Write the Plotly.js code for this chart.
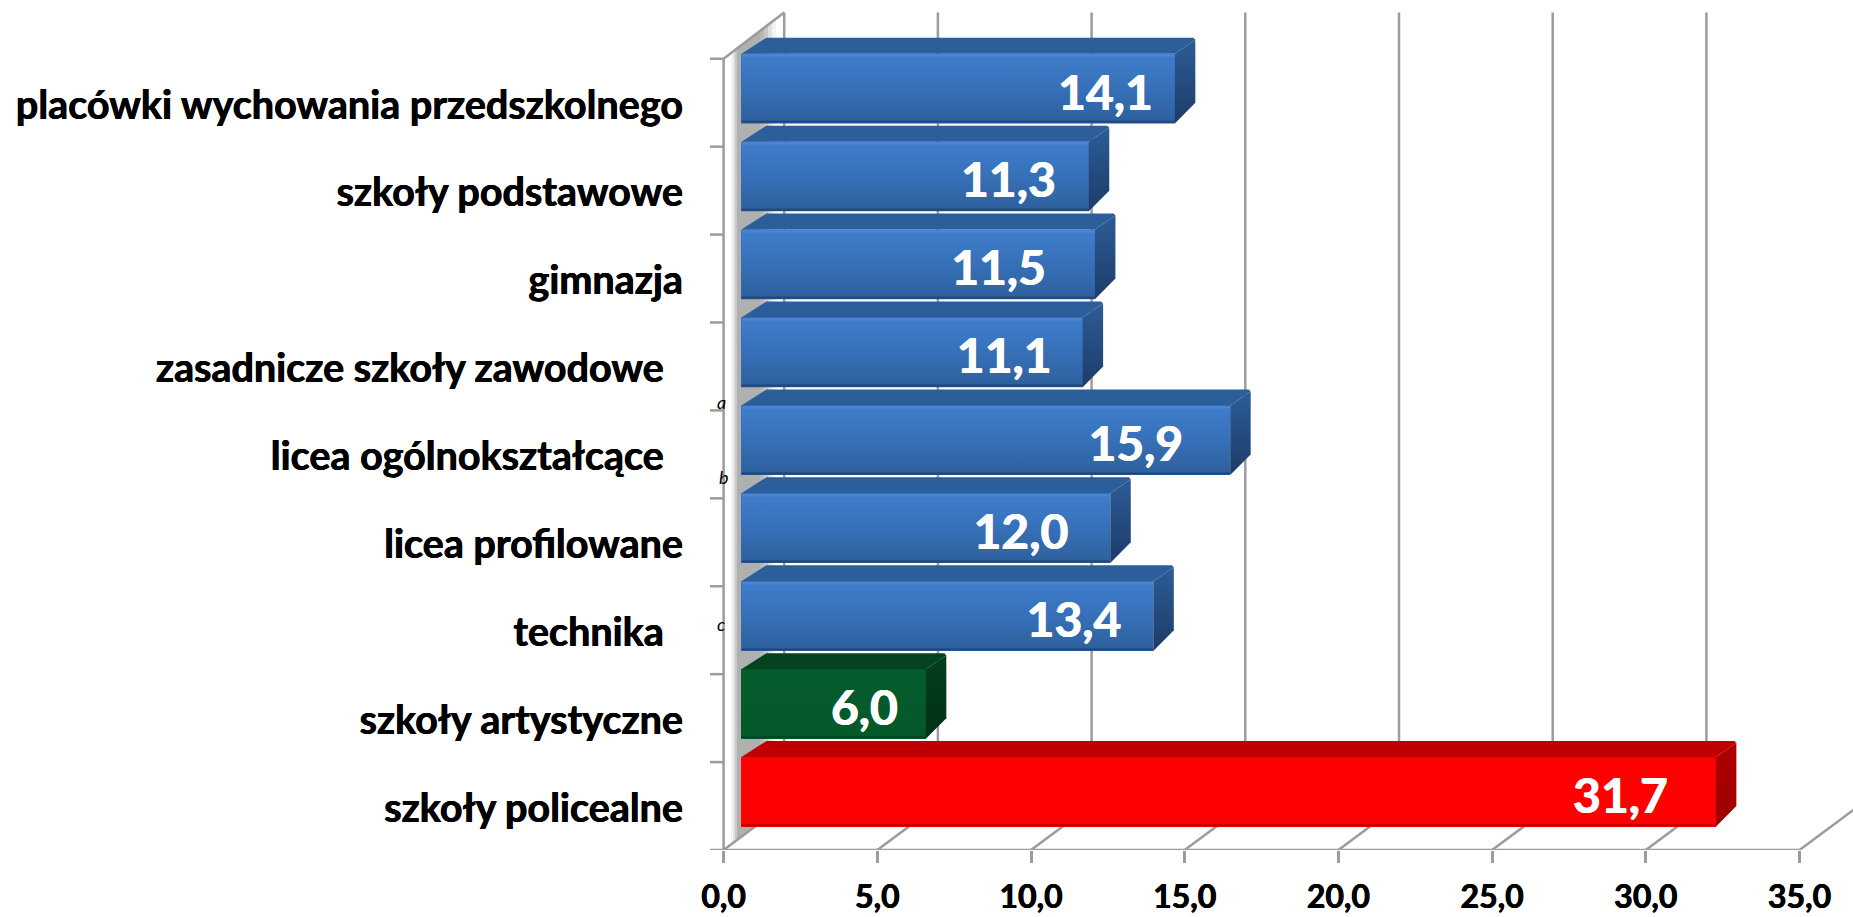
<!DOCTYPE html>
<html lang="pl">
<head>
<meta charset="utf-8">
<title>Wykres</title>
<script src="https://cdn.plot.ly/plotly-3.0.1.min.js"></script>
<style>html,body{margin:0;padding:0;background:#fff;overflow:hidden}#chart{width:1853px;height:917px}</style>
</head>
<body>
<div id="chart"></div>
<script>
// ---- data ----
const categories = [
  'placówki wychowania przedszkolnego',
  'szkoły podstawowe',
  'gimnazja',
  'zasadnicze szkoły zawodowe\u00A0\u00A0',
  'licea ogólnokształcące\u00A0\u00A0',
  'licea profilowane',
  'technika\u00A0\u00A0',
  'szkoły artystyczne',
  'szkoły policealne'
];
const values = [14.1, 11.3, 11.5, 11.1, 15.9, 12.0, 13.4, 6.0, 31.7];
const colourGroup = ['blue','blue','blue','blue','blue','blue','blue','green','red'];
const footnotes = ['a', 'b', 'c'];
const footnoteX = [721, 724, 721];
const footnoteY = [402, 477, 624];
const labelInset = [22, 33, 49, 31, 47, 42, 32, 28, 48];

// ---- scales and 3-D look ----
const PXU = 30.74, PXB = 87.92;          // pixels per value unit / per category band
const n = categories.length;
const dx = p => p / PXU, dy = p => p / PXB;
const WALL_X = dx(60.6), WALL_TOP = dy(46.3), WALL_FLOOR = dy(45);
const BAR0 = dx(17.8), BAR_H = dy(69.7), BAR_LIFT = dy(5);
const SIDE_X = dx(20.5), SIDE_TOP = dy(16), SIDE_BOT = dy(18.7), TOPLEFT_X = dx(25);
const GRID = '#9c9c9c';
const FONT = 'Lato, Carlito, sans-serif';
const HEAVY_BLACK = '0.4px 0 0 #000, -0.4px 0 0 #000';
const HEAVY_WHITE = '0.5px 0 0 #fff, -0.5px 0 0 #fff';
const palette = {
  blue:  {base:'#3670b8', front:[[0,'#2a5a98'],[0.025,'#1f4475'],[0.05,'#2f619f'],[0.5,'#3670b8'],[0.94,'#3e7cca'],[0.975,'#4a88d6'],[1,'#3f7dca']], top:'#2b5e9a', side:[[0,'#1d3c69'],[1,'#2c5c96']]},
  green: {base:'#04592a', front:[[0,'#04592a'],[0.025,'#03401e'],[0.05,'#04592a'],[1,'#055c2c']], top:'#03431f', side:[[0,'#022f16'],[1,'#03401e']]},
  red:   {base:'#ff0000', front:[[0,'#e00000'],[0.025,'#b80000'],[0.05,'#ff0000'],[1,'#ff0000']], top:'#c00000', side:[[0,'#9c0000'],[1,'#ae0000']]}
};

const traces = [];
// front faces
traces.push({
  type:'bar', orientation:'h',
  x: values, base: values.map(() => BAR0),
  y: values.map((v,i) => n - i + BAR_LIFT - BAR_H / 2),
  width: BAR_H,
  marker:{color: colourGroup.map(g => palette[g].base), line:{width:0}},
  hovertemplate:'%{customdata}: %{x:.1f}<extra></extra>', customdata: categories,
  showlegend:false
});
values.forEach((v,i) => {
  const top = n - i + BAR_LIFT, bot = top - BAR_H, L = BAR0, R = BAR0 + v, p = palette[colourGroup[i]];
  const c = dx(2), cy = dy(2);
  // gradient front
  traces.push({type:'scatter', mode:'lines', hoverinfo:'skip', showlegend:false, line:{width:0},
    x:[L, R, R, L, L], y:[top, top, bot, bot, top], fill:'toself',
    fillgradient:{type:'vertical', colorscale:p.front}});
  // top face
  traces.push({type:'scatter', mode:'lines', hoverinfo:'skip', showlegend:false, line:{width:0},
    x:[L, L + TOPLEFT_X - c, L + TOPLEFT_X, R + SIDE_X - c, R + SIDE_X, R],
    y:[top, top + SIDE_TOP - cy, top + SIDE_TOP, top + SIDE_TOP, top + SIDE_TOP - cy, top],
    fill:'toself', fillcolor:p.top});
  // right face
  traces.push({type:'scatter', mode:'lines', hoverinfo:'skip', showlegend:false, line:{width:0},
    x:[R, R + SIDE_X, R + SIDE_X, R + SIDE_X - c, R],
    y:[top, top + SIDE_TOP - cy, bot + SIDE_BOT + cy, bot + SIDE_BOT, bot],
    fill:'toself', fillgradient:{type:'vertical', colorscale:p.side}});
});
// value labels
traces.push({
  type:'scatter', mode:'text', hoverinfo:'skip', showlegend:false, cliponaxis:false,
  x: values.map((v,i) => BAR0 + v - dx(labelInset[i])),
  y: values.map((v,i) => n - i + BAR_LIFT - BAR_H / 2 - dy(9)),
  text: values.map(v => v.toFixed(1).replace('.', ',')),
  textposition:'middle left',
  textfont:{family:FONT, size:48, color:'#ffffff', weight:700, shadow:HEAVY_WHITE}
});

// wall, floor and grid lie under the bars, as shapes in data coordinates
const shapes = [];
const line = (x0,y0,x1,y1) => shapes.push({type:'line', layer:'below', xref:'x', yref:'y', x0, y0, x1, y1,
  line:{color:GRID, width:2.5}});
const wallBands = [[731,733,'#f4f4f4'],[733,735,'#e2e2e2'],[735,737,'#c8c8c8'],[737,760,'#b0b0b0'],[760,764,'#b8b8b8'],[764,768,'#c8c8c8'],[768,772,'#e0e0e0'],[772,776,'#f4f4f4']];
wallBands.forEach(([a,b,col]) => {
  const xa = dx(a - 723.6), xb = dx(b - 723.6);
  const up = x => n + x / WALL_X * WALL_TOP, lo = x => x / WALL_X * WALL_FLOOR;
  shapes.push({type:'path', layer:'below', xref:'x', yref:'y', fillcolor:col, line:{width:0},
    path:`M${xa},${lo(xa)} L${xb},${lo(xb)} L${xb},${up(xb)} L${xa},${up(xa)} Z`});
});
const xTicks = [0,5,10,15,20,25,30,35];
xTicks.forEach(v => {
  line(v, 0, v + WALL_X, WALL_FLOOR);
  if (v < 35) line(v + WALL_X, WALL_FLOOR, v + WALL_X, n + WALL_TOP);
});
line(0, 0, 0, n);
line(0, n, WALL_X, n + WALL_TOP);
line(-dx(13.6), 0, 35, 0);
for (let i = 1; i <= n; i++) line(-dx(13.6), i, 0, i);

const annotations = footnotes.map((t, i) => ({
  text:t, xref:'x', yref:'y', showarrow:false, xanchor:'center', yanchor:'middle',
  x: dx(footnoteX[i] - 723.6), y: dy(850 - footnoteY[i]),
  font:{family:FONT, size:18, style:'italic', color:'#000'}
}));

const layout = {
  width:1853, height:917, paper_bgcolor:'#fff', plot_bgcolor:'#fff', showlegend:false,
  margin:{l:684, r:0, t:0, b:67, pad:0},
  separators:', ', bargap:0, shapes, annotations,
  xaxis:{range:[-39.6/PXU, (1853-723.6)/PXU], tickvals:xTicks, tickformat:'.1f', showgrid:false, zeroline:false, showline:false,
    ticks:'outside', ticklen:12, tickwidth:2.5, tickcolor:GRID, ticklabelstandoff:7,
    tickfont:{family:FONT, size:32, color:'#000', weight:700, shadow:HEAVY_BLACK}},
  yaxis:{range:[0, 850/PXB], tickvals:categories.map((c,i) => n - i - 0.5 - dy(2)), ticktext:categories,
    showgrid:false, zeroline:false, showline:false, ticks:'',
    tickfont:{family:FONT, size:39.5, color:'#000', weight:700, shadow:HEAVY_BLACK}}
};
Plotly.newPlot('chart', traces, layout, {displayModeBar:false});
</script>
</body>
</html>
